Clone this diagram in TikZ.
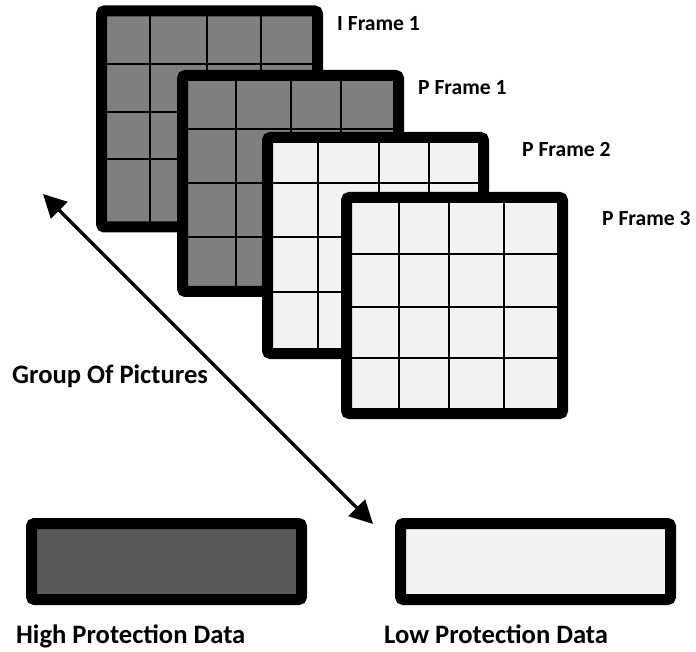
\documentclass[tikz,border=0pt]{standalone}
\usepackage{fontspec}
\setmainfont{Carlito}
\usetikzlibrary{arrows.meta}
\definecolor{framegray}{HTML}{7F7F7F}
\definecolor{framelight}{HTML}{F2F2F2}
\definecolor{datadark}{HTML}{595959}
\begin{document}
\begin{tikzpicture}[x=1pt,y=-1pt,
  frame/.style={draw=black, line width=11pt, rounded corners=3pt, minimum width=216pt, minimum height=216pt, inner sep=0pt, outer sep=0pt},
  gridline/.style={line width=1.3pt, black},
  databox/.style={draw=black, line width=11pt, rounded corners=3pt, minimum width=270pt, minimum height=76pt, inner sep=0pt, outer sep=0pt},
  flabel/.style={anchor=base west, font=\fontsize{21.6}{26}\selectfont\bfseries, inner sep=0pt},
  blabel/.style={anchor=base west, font=\fontsize{26.6}{32}\selectfont\bfseries, inner sep=0pt},
  gop/.style={line width=3.5pt, {Triangle[length=23pt,width=23pt]}-{Triangle[length=23pt,width=23pt]}}]
\useasboundingbox (0,0) rectangle (696,652);
% Frame 1 (I frame)
\node[frame, fill=framegray] (f1) at (209.5,119) {};
\foreach \x in {150,207,261} \draw[gridline] (\x,16) -- (\x,222);
\foreach \y in {64,112,159} \draw[gridline] (107,\y) -- (312,\y);
% Frame 2
\node[frame, fill=framegray] (f2) at (290.5,183.5) {};
\foreach \x in {236,291,341} \draw[gridline] (\x,81) -- (\x,286);
\foreach \y in {129,183,237} \draw[gridline] (188,\y) -- (393,\y);
% Frame 3
\node[frame, fill=framelight] (f3) at (375.5,245.5) {};
\foreach \x in {318,379,429} \draw[gridline] (\x,143) -- (\x,348);
\foreach \y in {183,237,292} \draw[gridline] (273,\y) -- (478,\y);
% Frame 4
\node[frame, fill=framelight] (f4) at (454.5,305.5) {};
\foreach \x in {399,449,504} \draw[gridline] (\x,203) -- (\x,408);
\foreach \y in {254,307,358} \draw[gridline] (352,\y) -- (557,\y);
% labels
\node[flabel] (l1) at (337,31) {I Frame 1};
\node[flabel] (l2) at (418,95) {P Frame 1};
\node[flabel] (l3) at (522,157) {P Frame 2};
\node[flabel] (l4) at (602,226) {P Frame 3};
% data boxes
\node[databox, fill=datadark] (hi) at (166.5,561.5) {};
\node[databox, fill=framelight] (lo) at (535.5,561.5) {};
\node[blabel] (hil) at (16,643) {High Protection Data};
\node[blabel] (lol) at (384,643) {Low Protection Data};
% group of pictures arrow
\coordinate (a1) at (43,194);
\coordinate (a2) at (373,524);
\draw[gop] (a1) -- (a2);
\node[blabel] (gopl) at (12,383) {Group Of Pictures};
\end{tikzpicture}
\end{document}
